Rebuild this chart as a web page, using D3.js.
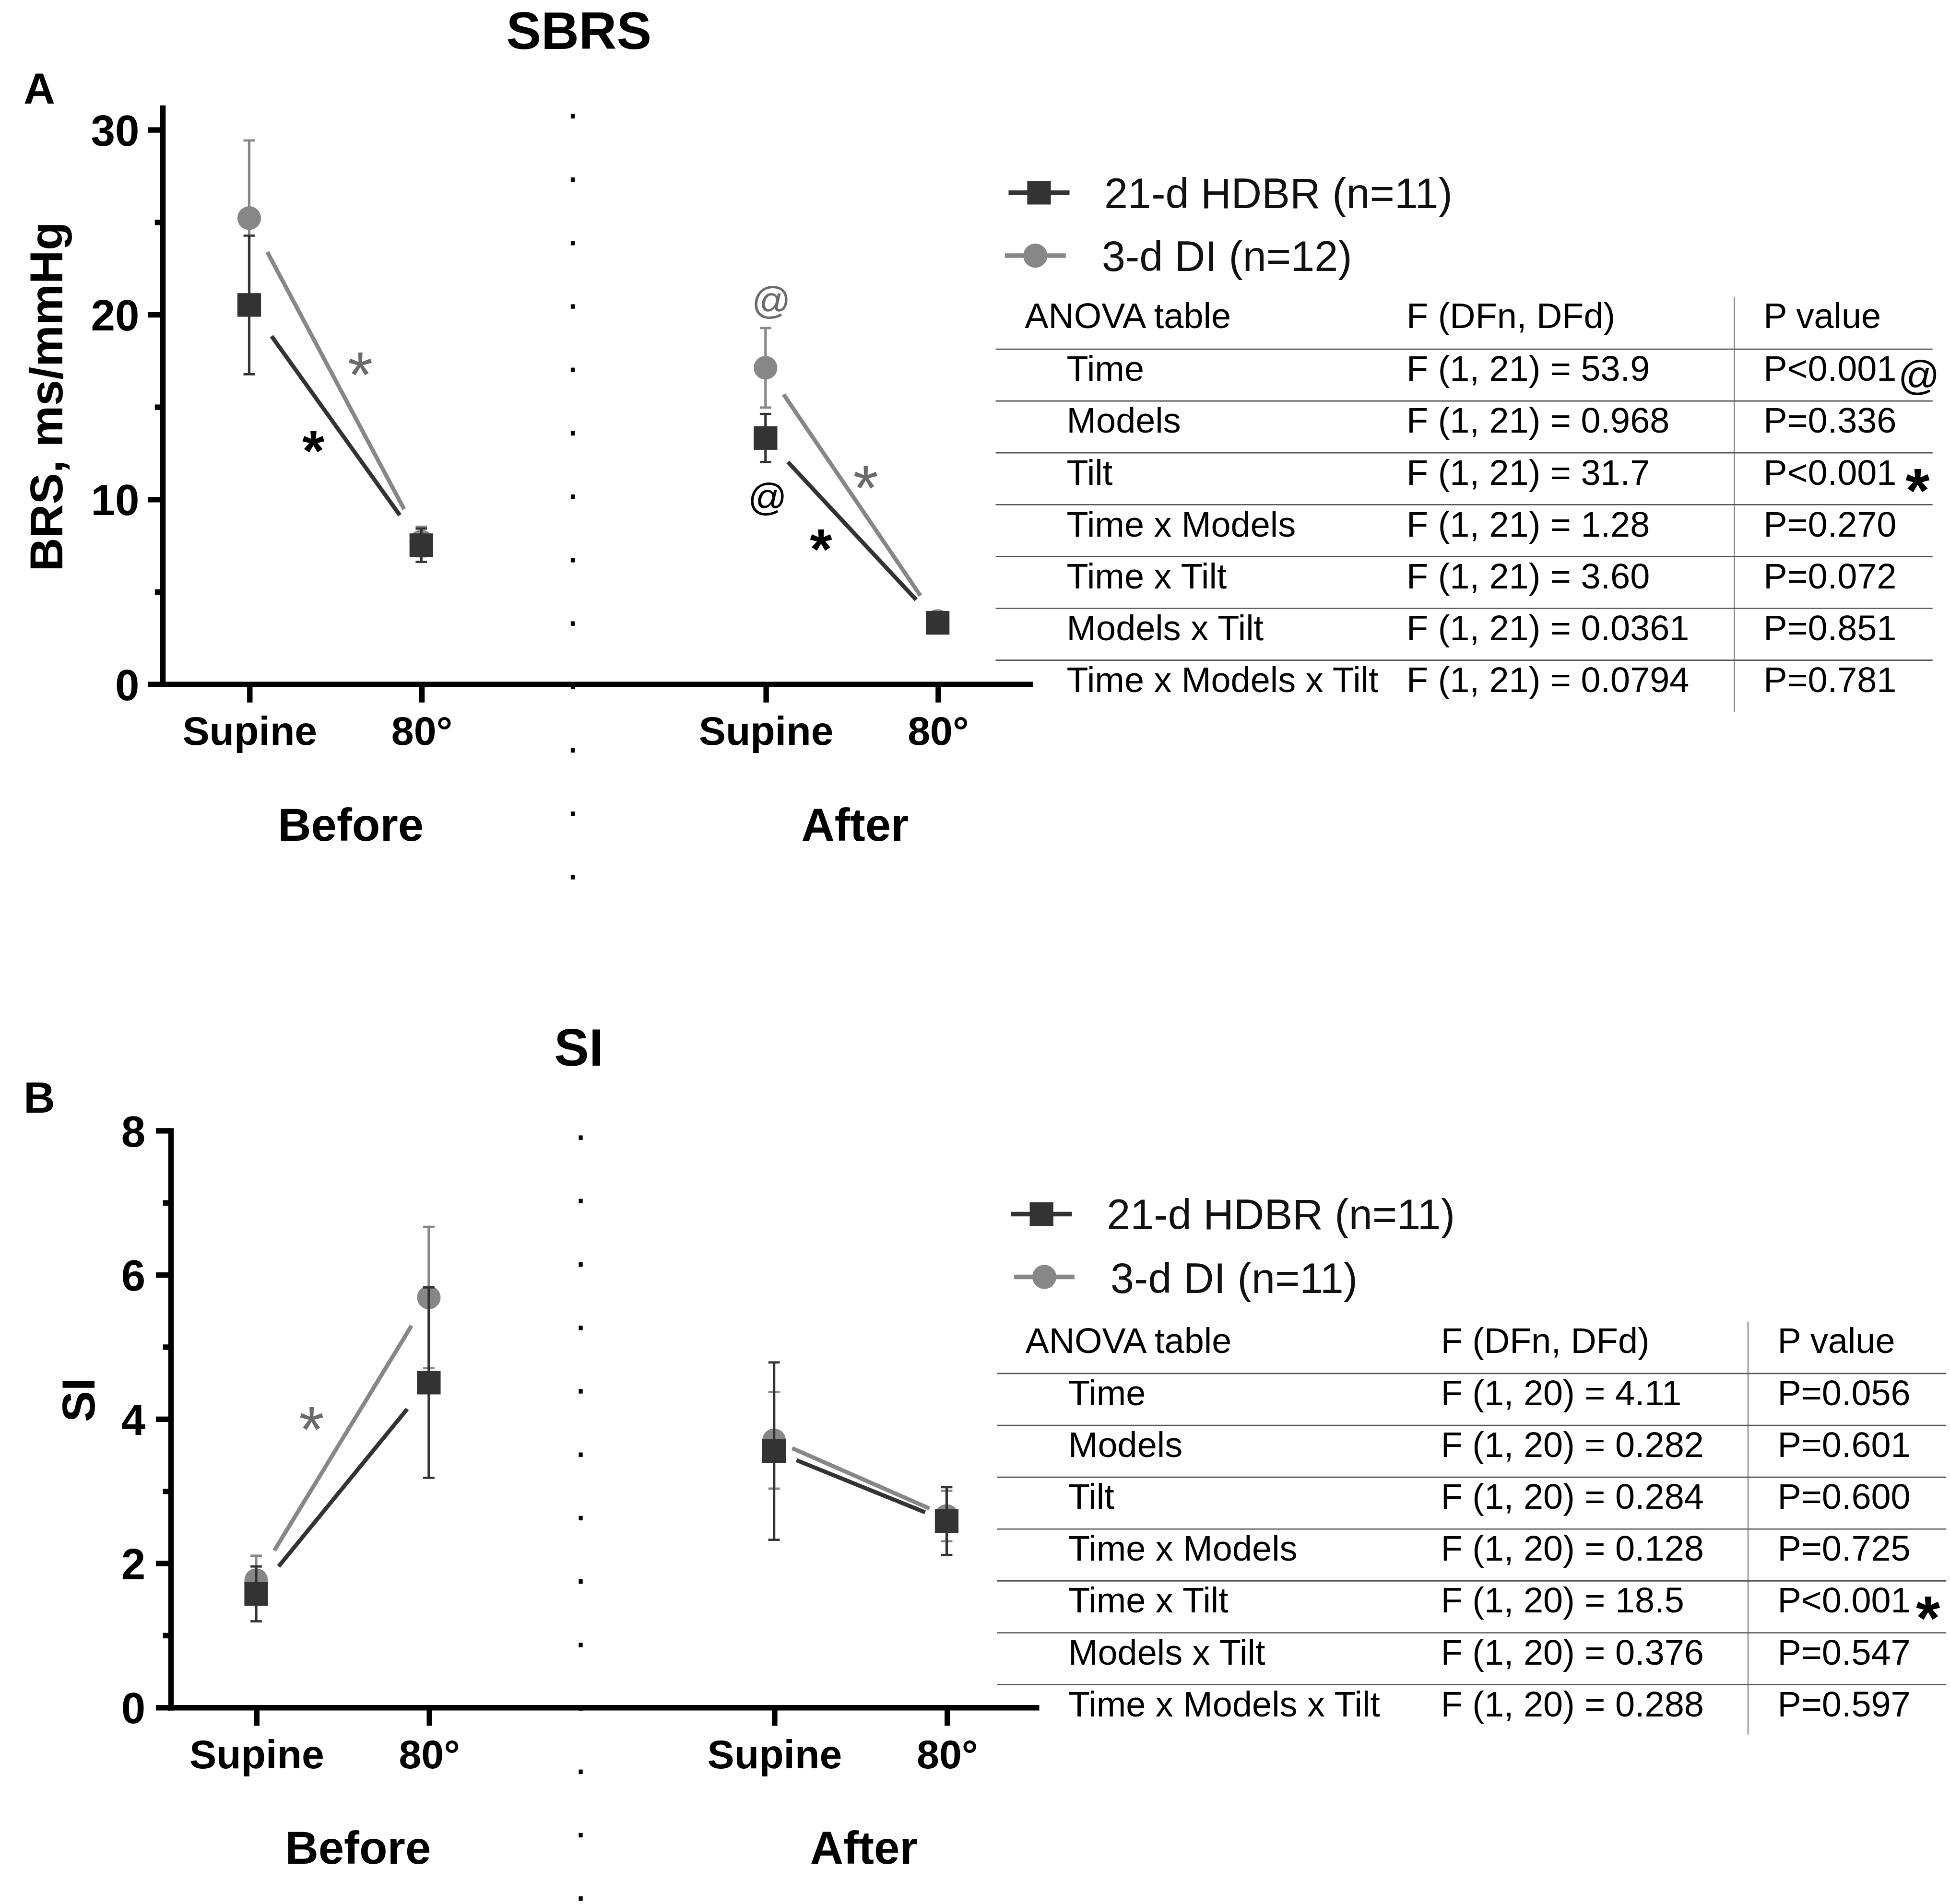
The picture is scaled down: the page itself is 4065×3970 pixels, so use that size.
<!DOCTYPE html>
<html>
<head>
<meta charset="utf-8">
<script src="https://cdn.jsdelivr.net/npm/d3@7"></script>
<style>
  body { margin: 0; background: #fff; }
  text { font-family: "Liberation Sans", Arial, Helvetica, sans-serif; }
</style>
</head>
<body>
<div id="chart"></div>
<script>
// ---- data ----
var tiltLabels = ["Supine", "80°", "Supine", "80°"];
var tiltPos = [0, 1, 3, 4];
var phaseLabels = ["Before", "After"];

// panel A: SBRS (mean, sem) for Before-Supine, Before-80, After-Supine, After-80
var sbrsHdbr = [20.5, 7.5, 13.3, 3.3];
var sbrsHdbrSem = [3.75, 0.9, 1.3, 0.3];
var sbrsDi = [25.2, 7.7, 17.1, 3.4];
var sbrsDiSem = [4.2, 0.8, 2.15, 0.3];
var sbrsLegend = ["21-d HDBR (n=11)", "3-d DI (n=12)"];

// panel B: SI
var siHdbr = [1.57, 4.5, 3.55, 2.58];
var siHdbrSem = [0.38, 1.32, 1.23, 0.47];
var siDi = [1.76, 5.68, 3.7, 2.65];
var siDiSem = [0.34, 0.98, 0.67, 0.35];
var siLegend = ["21-d HDBR (n=11)", "3-d DI (n=11)"];

// ANOVA tables
var anovaHeader = ["ANOVA table", "F (DFn, DFd)", "P value"];
var anovaTerms = ["Time", "Models", "Tilt", "Time x Models", "Time x Tilt", "Models x Tilt", "Time x Models x Tilt"];
var sbrsF = ["F (1, 21) = 53.9", "F (1, 21) = 0.968", "F (1, 21) = 31.7", "F (1, 21) = 1.28",
             "F (1, 21) = 3.60", "F (1, 21) = 0.0361", "F (1, 21) = 0.0794"];
var sbrsP = ["P<0.001", "P=0.336", "P<0.001", "P=0.270", "P=0.072", "P=0.851", "P=0.781"];
var sbrsMarks = ["@", "", "*", "", "", "", ""];
var siF = ["F (1, 20) = 4.11", "F (1, 20) = 0.282", "F (1, 20) = 0.284", "F (1, 20) = 0.128",
           "F (1, 20) = 18.5", "F (1, 20) = 0.376", "F (1, 20) = 0.288"];
var siP = ["P=0.056", "P=0.601", "P=0.600", "P=0.725", "P<0.001", "P=0.547", "P=0.597"];
var siMarks = ["", "", "", "", "*", "", ""];

// significance marks inside plots: [x index, y value, symbol, series]
var sbrsAnnot = [[0.645, 17.6, "*", 1], [0.373, 13.4, "*", 0], [3.033, 20.6, "@", 1],
                 [3.011, 9.95, "@", 0], [3.582, 11.5, "*", 1], [3.322, 8.07, "*", 0]];
var siAnnot = [[0.321, 4.08, "*", 1]];

// ---- drawing ----
var dark = "#333333", gray = "#878787";

var svg = d3.select("#chart").append("svg")
  .attr("width", 4065)
  .attr("height", 3970)
  .attr("viewBox", "0 0 1568 1531.35");

function drawPanel(cfg) {
  var g = svg.append("g");
  var x = d3.scaleLinear().domain(cfg.xDomain).range([cfg.axisX, cfg.axisEnd]);
  var y = d3.scaleLinear().domain(cfg.yDomain).range([cfg.axisY, cfg.axisTop]);

  // title and panel letter
  g.append("text").attr("x", 465.5).attr("y", cfg.titleY)
    .attr("text-anchor", "middle").attr("font-size", 42).attr("font-weight", "bold")
    .text(cfg.title);
  g.append("text").attr("x", 19).attr("y", cfg.letterY)
    .attr("font-size", 35).attr("font-weight", "bold").text(cfg.letter);

  // divider dots
  var divX = x(1.88);
  g.append("g").selectAll("rect")
    .data(d3.range(cfg.dotTop, cfg.dotTop + 51 * 12 + 1, 51))
    .join("rect")
    .attr("x", divX - 1.6).attr("y", d => d - 1.8)
    .attr("width", 3.2).attr("height", 3.6).attr("fill", "#000");

  // y axis
  var yAxis = g.append("g").attr("transform", `translate(${cfg.axisX},0)`)
    .call(d3.axisLeft(y).tickValues(cfg.yTicks).tickSize(11.6).tickSizeOuter(0).tickPadding(6));
  g.append("g").attr("transform", `translate(${cfg.axisX},0)`)
    .call(d3.axisLeft(y).tickValues(cfg.yMinor).tickSize(6).tickFormat(""))
    .select(".domain").remove();

  // x axis
  var xAxis = g.append("g").attr("transform", `translate(0,${cfg.axisY})`)
    .call(d3.axisBottom(x).tickValues(tiltPos).tickSize(15).tickSizeOuter(0)
      .tickFormat((d, i) => tiltLabels[i]));

  g.selectAll(".domain, .tick line")
    .attr("stroke", "#000").attr("stroke-width", 4.4).attr("stroke-linecap", "square");
  yAxis.selectAll("text")
    .attr("font-size", 35).attr("font-weight", "bold").attr("fill", "#000")
    .attr("font-family", null).attr("x", cfg.yLabelRight - cfg.axisX).attr("dy", "0.36em");
  xAxis.selectAll("text")
    .attr("font-size", 32.5).attr("font-weight", "bold").attr("fill", "#000")
    .attr("font-family", null).attr("y", 49).attr("dy", 0);
  g.selectAll(".tick line").attr("stroke-linecap", "butt");

  // phase labels
  g.selectAll(".phase").data(phaseLabels).join("text")
    .attr("class", "phase")
    .attr("x", (d, i) => x([0.59, 3.52][i]))
    .attr("y", cfg.axisY + 126)
    .attr("text-anchor", "middle").attr("font-size", 37).attr("font-weight", "bold")
    .text(d => d);

  // y label
  g.append("text")
    .attr("transform", `translate(${cfg.yTitleX},${cfg.yTitleY}) rotate(-90)`)
    .attr("text-anchor", "middle").attr("font-size", 37.5).attr("font-weight", "bold")
    .text(cfg.yTitle);

  // series
  function drawSeries(vals, sems, color, shape, cut) {
    var s = g.append("g");
    vals.forEach(function(v, i) {
      var cx = x(tiltPos[i]);
      s.append("line").attr("x1", cx).attr("x2", cx)
        .attr("y1", y(v - sems[i])).attr("y2", y(v + sems[i]))
        .attr("stroke", color).attr("stroke-width", 2);
      [v - sems[i], v + sems[i]].forEach(function(e) {
        s.append("line").attr("x1", cx - 4.6).attr("x2", cx + 4.6)
          .attr("y1", y(e)).attr("y2", y(e))
          .attr("stroke", color).attr("stroke-width", 1.8);
      });
    });
    [[0, 1], [2, 3]].forEach(function(p) {
      var x0 = tiltPos[p[0]], x1 = tiltPos[p[1]], v0 = vals[p[0]], v1 = vals[p[1]];
      var a = cut[0], b = cut[1];
      s.append("line")
        .attr("x1", x(x0 + (x1 - x0) * a)).attr("y1", y(v0 + (v1 - v0) * a))
        .attr("x2", x(x0 + (x1 - x0) * b)).attr("y2", y(v0 + (v1 - v0) * b))
        .attr("stroke", color).attr("stroke-width", 3.3);
    });
    vals.forEach(function(v, i) {
      if (shape === "circle") {
        s.append("circle").attr("cx", x(tiltPos[i])).attr("cy", y(v)).attr("r", 9.5).attr("fill", color);
      } else {
        s.append("rect").attr("x", x(tiltPos[i]) - 9.5).attr("y", y(v) - 9.5)
          .attr("width", 19).attr("height", 19).attr("fill", color);
      }
    });
  }
  drawSeries(cfg.di, cfg.diSem, gray, "circle", [0.105, 0.9]);
  drawSeries(cfg.hdbr, cfg.hdbrSem, dark, "square", [0.13, 0.875]);

  // significance marks
  g.selectAll(".annot").data(cfg.annot).join("text")
    .attr("class", "annot")
    .attr("x", d => x(d[0]))
    .attr("y", d => y(d[1]))
    .attr("dy", d => d[2] === "@" ? "0.27em" : "0.6em")
    .attr("text-anchor", "middle")
    .attr("font-size", d => d[2] === "@" ? 31 : (d[3] === 0 ? 46 : 52))
    .attr("font-weight", d => d[2] === "*" && d[3] === 0 ? "bold" : "normal")
    .attr("fill", d => d[3] === 0 ? "#000" : "#6b6b6b")
    .text(d => d[2]);

  // legend
  var lg = g.append("g");
  cfg.legend.forEach(function(name, i) {
    var L = cfg.legendPos[i];
    var color = i === 0 ? dark : gray;
    lg.append("line").attr("x1", L[0]).attr("x2", L[1]).attr("y1", L[2]).attr("y2", L[2])
      .attr("stroke", color).attr("stroke-width", 3.7);
    var mx = (L[0] + L[1]) / 2;
    if (i === 0) {
      lg.append("rect").attr("x", mx - 9.5).attr("y", L[2] - 9.5).attr("width", 19).attr("height", 19).attr("fill", color);
    } else {
      lg.append("circle").attr("cx", mx).attr("cy", L[2]).attr("r", 9.7).attr("fill", color);
    }
    lg.append("text").attr("x", L[3]).attr("y", L[4])
      .attr("font-size", 34).attr("fill", "#111").text(name);
  });

  // ANOVA table
  var T = cfg.table;
  var tg = g.append("g").attr("font-size", 28.5).attr("fill", "#000");
  tg.append("line").attr("x1", T.vline).attr("x2", T.vline).attr("y1", T.vTop).attr("y2", T.vBottom)
    .attr("stroke", "#8a8a8a").attr("stroke-width", 1);
  tg.selectAll(".hl").data(cfg.terms).join("line").attr("class", "hl")
    .attr("x1", T.left).attr("x2", T.right)
    .attr("y1", (d, i) => T.line0 + 41.7 * i).attr("y2", (d, i) => T.line0 + 41.7 * i)
    .attr("stroke", "#555").attr("stroke-width", 1);
  anovaHeader.forEach(function(h, j) {
    tg.append("text").attr("x", [T.c0, T.c2, T.c3][j]).attr("y", T.head).text(h);
  });
  cfg.terms.forEach(function(t, i) {
    var by = T.row0 + 41.7 * i;
    tg.append("text").attr("x", T.c1).attr("y", by).text(t);
    tg.append("text").attr("x", T.c2).attr("y", by).text(cfg.fVals[i]);
    tg.append("text").attr("x", T.c3).attr("y", by).text(cfg.pVals[i]);
    if (cfg.marks[i] === "@") {
      tg.append("text").attr("x", T.c3 + 125).attr("y", by + 7).attr("text-anchor", "middle")
        .attr("font-size", 33).text("@");
    } else if (cfg.marks[i] === "*") {
      tg.append("text").attr("x", T.c3 + T.starDx).attr("y", by + 22).attr("text-anchor", "middle")
        .attr("font-size", 50).attr("font-weight", "bold").text("*");
    }
  });
}

drawPanel({
  title: "SBRS", titleY: 39.5, letter: "A", letterY: 83.5,
  xDomain: [-0.505, 4.535], axisX: 130.5, axisEnd: 828,
  yDomain: [0, 31.18], axisY: 550, axisTop: 86.5,
  yTicks: [0, 10, 20, 30], yMinor: [5, 15, 25], yLabelRight: 112,
  yTitle: "BRS, ms/mmHg", yTitleX: 50, yTitleY: 319,
  dotTop: 93.5,
  hdbr: sbrsHdbr, hdbrSem: sbrsHdbrSem, di: sbrsDi, diSem: sbrsDiSem,
  annot: sbrsAnnot,
  legend: sbrsLegend,
  legendPos: [[811, 860, 155, 888, 167.4], [808, 857, 205.6, 886, 218]],
  terms: anovaTerms, fVals: sbrsF, pVals: sbrsP, marks: sbrsMarks,
  table: { left: 800.6, right: 1554, vline: 1394.6, vTop: 238.7, vBottom: 572.5,
           head: 264, row0: 306.4, line0: 280.8,
           c0: 824, c1: 857.7, c2: 1131, c3: 1418, starDx: 124 }
});

drawPanel({
  title: "SI", titleY: 857, letter: "B", letterY: 895,
  xDomain: [-0.497, 4.517], axisX: 137, axisEnd: 833,
  yDomain: [0, 8], axisY: 1373, axisTop: 909,
  yTicks: [0, 2, 4, 6, 8], yMinor: [1, 3, 5, 7], yLabelRight: 117,
  yTitle: "SI", yTitleX: 76, yTitleY: 1126,
  dotTop: 915,
  hdbr: siHdbr, hdbrSem: siHdbrSem, di: siDi, diSem: siDiSem,
  annot: siAnnot,
  legend: siLegend,
  legendPos: [[813, 862, 976.5, 890, 988.8], [815.5, 864, 1027, 893, 1040]],
  terms: anovaTerms, fVals: siF, pVals: siP, marks: siMarks,
  table: { left: 801.6, right: 1565, vline: 1405.6, vTop: 1063, vBottom: 1395,
           head: 1088, row0: 1130.2, line0: 1104.7,
           c0: 824.5, c1: 859, c2: 1158.6, c3: 1429.3, starDx: 121 }
});
</script>
</body>
</html>
